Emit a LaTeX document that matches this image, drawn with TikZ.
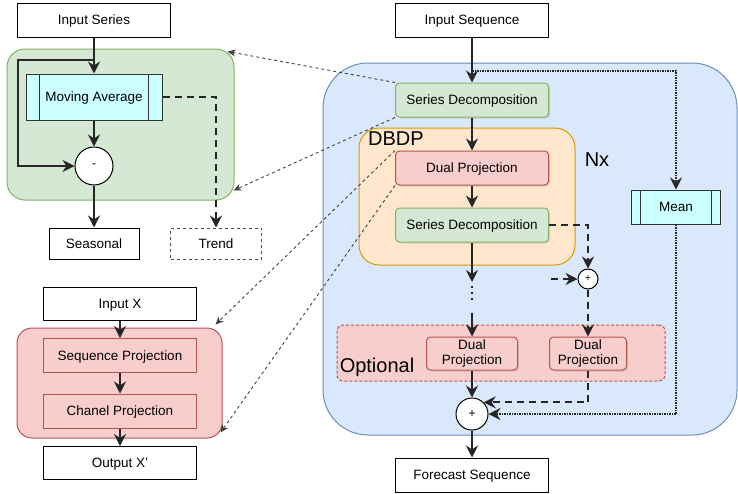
\documentclass[tikz,border=0pt]{standalone}
\usepackage{fontspec}
\setmainfont{Liberation Sans}
\usetikzlibrary{arrows.meta,calc,shadows}

\definecolor{greenfill}{HTML}{D5E8D4}
\definecolor{greenline}{HTML}{82B366}
\definecolor{bluefill}{HTML}{DAE8FC}
\definecolor{blueline}{HTML}{6C8EBF}
\definecolor{orangefill}{HTML}{FFE6CC}
\definecolor{orangeline}{HTML}{D79B00}
\definecolor{redfill}{HTML}{F8CECC}
\definecolor{redline}{HTML}{B85450}
\definecolor{cyanfill}{HTML}{CCFFFF}

\begin{document}
\begin{tikzpicture}[
    x=1pt, y=-1pt,
    every node/.style={font=\fontsize{13.5}{15}\selectfont},
    box/.style={rectangle, draw, line width=1pt, fill=white, minimum width=153pt, minimum height=34pt, inner sep=0pt, align=center, text height=9.7pt, text depth=0pt},
    twoline/.style={text height={}, text depth={}, font=\fontsize{13.5}{14.5}\selectfont},
    greenbox/.style={box, fill=greenfill, draw=greenline, rounded corners=4pt, drop shadow={shadow xshift=1.5pt, shadow yshift=-1.5pt, opacity=0.25}},
    redbox/.style={box, fill=redfill, draw=redline, rounded corners=4pt, drop shadow={shadow xshift=1.5pt, shadow yshift=-1.5pt, opacity=0.25}},
    projbox/.style={box, fill=redfill, draw=redline},
    process/.style={box, fill=cyanfill, draw=black!80, path picture={
        \draw[line width=1pt] ($(path picture bounding box.north west)!0.1!(path picture bounding box.north east)$) -- ($(path picture bounding box.south west)!0.1!(path picture bounding box.south east)$);
        \draw[line width=1pt] ($(path picture bounding box.north east)!0.1!(path picture bounding box.north west)$) -- ($(path picture bounding box.south east)!0.1!(path picture bounding box.south west)$);}},
    group/.style={rectangle, draw, line width=1pt},
    sum/.style={circle, draw, fill=white, line width=1pt, inner sep=0pt, font=\fontsize{12}{12}\selectfont},
    bigtext/.style={font=\fontsize{20}{22}\selectfont, inner sep=0pt},
    arrow/.style={-{Stealth[length=12pt, width=12pt, inset=4pt]}, line width=2pt, black!85},
    dasharrow/.style={arrow, dash pattern=on 7pt off 5pt},
    dotarrow/.style={arrow, dash pattern=on 1.5pt off 1pt},
    link/.style={-{Stealth[length=8pt, width=7pt, inset=2.5pt]}, line width=0.9pt, dash pattern=on 3pt off 3pt, black!75}
]
\useasboundingbox (0,0) rectangle (738,493);

% Left top: series decomposition
\node[group, fill=greenfill, draw=greenline, rounded corners=18pt, minimum width=227pt, minimum height=151pt] (decomp) at (120.5,124.5) {};
\node[box] (inseries) at (94,20) {Input Series};
\node[process, minimum width=136pt, minimum height=46pt] (movavg) at (94,97) {Moving Average};
\node[sum, minimum size=38pt] (minus) at (94,166) {-};
\node[box, minimum width=90pt, minimum height=31pt] (seasonal) at (94,243.5) {Seasonal};
\node[box, minimum width=91pt, minimum height=31pt, draw=black!70, dash pattern=on 3pt off 3pt] (trend) at (216,243.5) {Trend};
\coordinate (split) at (94,60);

\draw[arrow] (inseries) -- (movavg);
\draw[arrow] (split) -- ++(-76,0) |- (minus);
\draw[arrow] (movavg) -- (minus);
\draw[arrow] (minus) -- (seasonal);
\draw[dasharrow] (movavg) -| (trend);

% Left bottom: dual projection
\node[group, fill=redfill, draw=redline, rounded corners=15pt, minimum width=205pt, minimum height=110pt] (dualproj) at (119.5,383) {};
\node[box, minimum height=33pt] (inputx) at (120,303.5) {Input X};
\node[projbox] (seqproj) at (120,355.5) {Sequence Projection};
\node[projbox] (chproj) at (120,411) {Chanel Projection};
\node[box, minimum height=33pt] (outputx) at (120,463) {Output X'};

\draw[arrow] (inputx) -- (seqproj);
\draw[arrow] (seqproj) -- (chproj);
\draw[arrow] (chproj) -- (outputx);

% Right: model
\node[group, fill=bluefill, draw=blueline, rounded corners=45pt, minimum width=414pt, minimum height=372pt] (model) at (530,249) {};
\node[group, fill=orangefill, draw=orangeline, rounded corners=20pt, minimum width=216pt, minimum height=137pt] (dbdp) at (467,196.5) {};
\node[group, fill=redfill, draw=redline, dash pattern=on 3pt off 2pt, rounded corners=6pt, minimum width=328pt, minimum height=56pt] (optional) at (501,353) {};
\node[bigtext, anchor=north west] (dbdplabel) at (368,132) {DBDP};
\node[bigtext] (nxlabel) at (597,160) {Nx};
\node[bigtext] (optlabel) at (377,367) {Optional};

\node[box] (inseq) at (472,20) {Input Sequence};
\node[greenbox] (sdecomp) at (472,100) {Series Decomposition};
\node[redbox] (dproj) at (472,168) {Dual Projection};
\node[greenbox] (sdecompb) at (472,225) {Series Decomposition};
\node[process, minimum width=89pt] (mean) at (676,207) {Mean};
\node[sum, minimum size=20pt, font=\fontsize{10}{10}\selectfont] (smallplus) at (588,279) {+};
\node[redbox, twoline, minimum width=91pt, minimum height=33pt] (dprojc) at (472,353.5) {Dual\\Projection};
\node[redbox, twoline, minimum width=77pt, minimum height=33pt] (dprojd) at (588,353.5) {Dual\\Projection};
\node[sum, minimum size=32pt] (bigplus) at (472,414) {+};
\node[box] (forecast) at (472,475) {Forecast Sequence};

\coordinate (fork) at (472,71);
\coordinate (gapA) at (472,282);
\coordinate (dotsA) at (472,286);
\coordinate (dotsB) at (472,301);
\coordinate (gapB) at (472,313);
\coordinate (carry) at (551,279);

% Arrows
\draw[arrow] (inseq) -- (sdecomp);
\draw[dotarrow] (fork) -| (mean);
\draw[arrow] (sdecomp) -- (dproj);
\draw[arrow] (dproj) -- (sdecompb);
\draw[arrow] (sdecompb) -- (gapA);
\draw[line width=2pt, black!85, dash pattern=on 2pt off 4pt] (dotsA) -- (dotsB);
\draw[arrow] (gapB) -- (dprojc);
\draw[dasharrow] (sdecompb) -| (smallplus);
\draw[dasharrow] (carry) -- (smallplus);
\draw[dasharrow] (smallplus) -- (dprojd);
\draw[arrow] (dprojc) -- (bigplus);
\draw[dasharrow] (dprojd) |- (bigplus.45);
\draw[dotarrow] (mean) |- (bigplus);
\draw[arrow] (bigplus) -- (forecast);

% Zoom-in links
\draw[link] (sdecomp.north west) -- ([xshift=-7pt, yshift=-3pt]decomp.north east);
\draw[link] (sdecomp.south west) -- ([xshift=-1pt, yshift=10pt]decomp.south east);
\draw[link] (dproj.north west) -- ([xshift=-7pt, yshift=3pt]dualproj.north east);
\draw[link] (dproj.south west) -- ([xshift=-2pt, yshift=6pt]dualproj.south east);

\end{tikzpicture}
\end{document}
